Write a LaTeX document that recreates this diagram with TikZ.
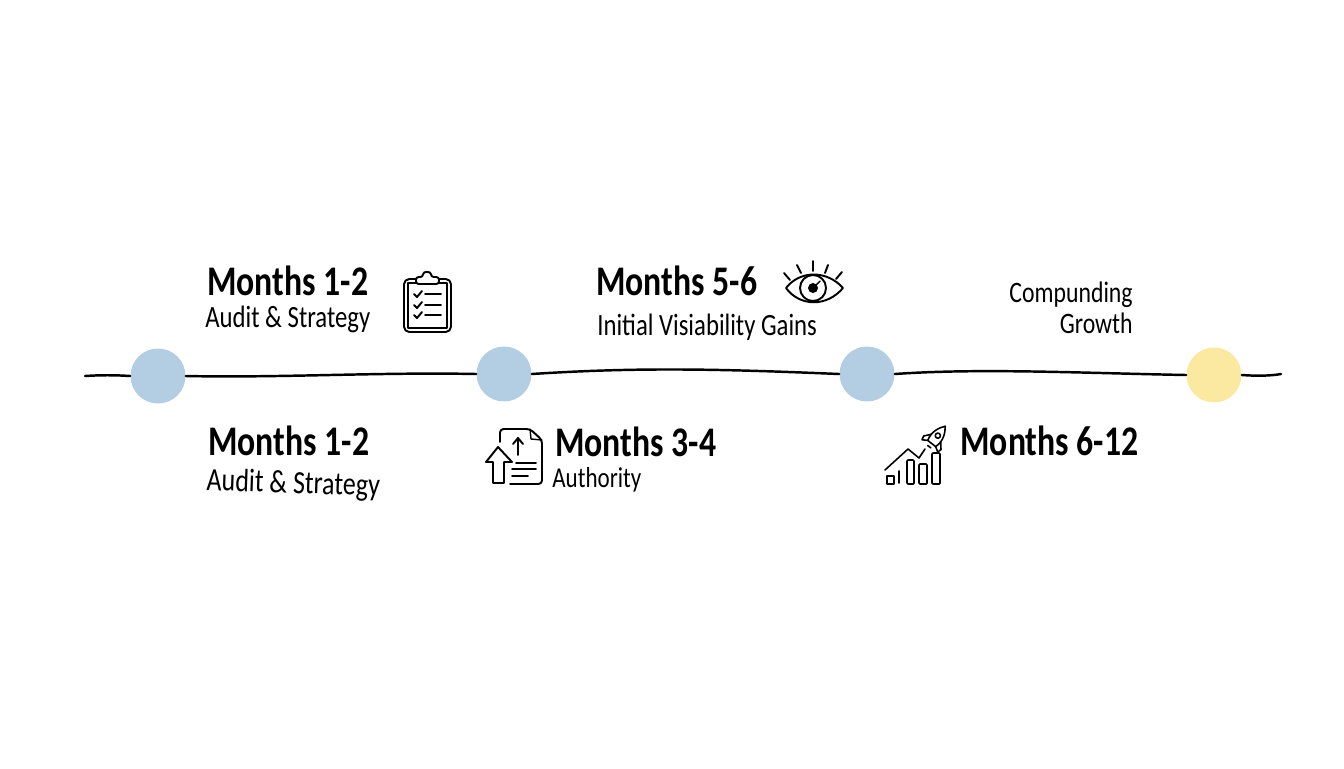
\documentclass[tikz,border=0pt]{standalone}
\usepackage{fontspec}
\usepackage{xcolor}
\usepackage{tikz}
\newfontfamily\handfont[FakeStretch=0.8]{Carlito}
\definecolor{tlblue}{HTML}{B3CDE3}
\definecolor{tlyellow}{HTML}{FBE9A2}
\tikzset{
  dot/.style={circle, minimum size=1.56cm*0.705, inner sep=0pt, draw=none},
  head/.style={anchor=base west, inner sep=0pt, font=\handfont\fontsize{24}{26}\selectfont\bfseries, text=black},
  sub/.style={anchor=base west, inner sep=0pt, font=\handfont\fontsize{#1}{18}\selectfont, text=black},
  sub/.default=17.6,
  icon/.style={line width=1.1pt, line cap=round, line join=round},
}
\begin{document}
\begin{tikzpicture}[x=0.02cm, y=-0.02cm]
  \useasboundingbox (0,0) rectangle (1344,768);

  % -- the four stops on the line -------------------------------------------
  \node[dot, fill=tlblue]   (stopa) at (158,376) {};
  \node[dot, fill=tlblue]   (stopb) at (504,374) {};
  \node[dot, fill=tlblue]   (stopc) at (867,374) {};
  \node[dot, fill=tlyellow] (stopd) at (1214,375) {};
  \coordinate (lineL) at (85,376);
  \coordinate (lineR) at (1281,374);

  % -- the line, a little unsteady -------------------------------------------
  \begin{scope}[line width=1.4pt, line cap=round]
    \draw (lineL) .. controls (100,375) and (115,375) .. (stopa.west);
    \draw (stopa.east) .. controls (280,378) and (380,372) .. (stopb.west);
    \draw (stopb.east) .. controls (640,367) and (720,369) .. (stopc.west);
    \draw (stopc.east) .. controls (980,368) and (1080,373) .. (stopd.west);
    \draw (stopd.east) .. controls (1255,376) and (1270,376) .. (lineR);
  \end{scope}

  % -- upper labels -----------------------------------------------------------
  \node[head] (mona) at (207,295) {Months 1-2};
  \node[sub]  (auda) at (205,327) {Audit \& Strategy};
  \node[head] (monc) at (596,295) {Months 5-6};
  \node[sub]  (visc) at (597,335) {Initial Visiability Gains};
  \node[sub=16.9, anchor=base east] (comd) at (1133,302) {Compunding};
  \node[sub=16.9, anchor=base east] (grod) at (1133,333) {Growth};

  % -- lower labels -----------------------------------------------------------
  \node[head] (monb) at (208,455) {Months 1-2};
  \node[sub=18.5, rotate=-2] (audb) at (206,490) {Audit \& Strategy};
  \node[head] (mone) at (555,456) {Months 3-4};
  \node[sub=16.4] (auth) at (552,487) {Authority};
  \node[head] (monf) at (960,455) {Months 6-12};

  % -- clipboard --------------------------------------------------------------
  \begin{scope}[icon]
    \draw[rounded corners=3pt] (416,279) -- (404,279) -- (404,332) -- (451,332) -- (451,279) -- (439,279);
    \draw[line width=0.8pt] (416,283) -- (408,283) -- (408,328) -- (447,328) -- (447,283) -- (439,283);
    \draw[rounded corners=1.5pt] (416,284) -- (416,277) -- (423,277) .. controls (423,271) and (431,271) .. (431,277) -- (439,277) -- (439,284) -- cycle;
    \foreach \y in {294,305,315}{
      \draw (414,\y) -- (417,\y+3) -- (422,\y-3);
      \draw (425,\y) -- (441,\y);}
  \end{scope}

  % -- eye --------------------------------------------------------------------
  \begin{scope}[icon]
    \draw (786,288) .. controls (800,270) and (827,270) .. (843,288) .. controls (827,307) and (800,307) .. (786,288) -- cycle;
    \draw (813,288) circle[radius=13];
    \fill (813,288) circle[radius=5];
    \draw[line width=0.8pt] (813,288) -- (820,281);
    \draw (813,261) -- (813,271);
    \draw (797,265) -- (801,273);
    \draw (828,265) -- (825,273);
    \draw (784,273) -- (790,280);
    \draw (842,272) -- (836,279);
  \end{scope}

  % -- document with arrows -----------------------------------------------------
  \begin{scope}[icon]
    \draw[rounded corners=2pt] (500,442) -- (500,429) -- (530,429) -- (542,440) -- (542,484) -- (510,484);
    \draw[line width=0.8pt] (530,429) -- (531,439) -- (542,440);
    \draw (518,455) -- (518,438);
    \draw (513,444) -- (518,438) -- (523,444);
    \draw (516,463) -- (536,463);
    \draw (512,469) -- (536,469);
    \draw (512,476) -- (528,476);
    \draw (498,447) -- (486,462) -- (493,462) -- (493,483) -- (504,483) -- (504,462) -- (512,462) -- cycle;
  \end{scope}

  % -- chart with rocket ----------------------------------------------------------
  \begin{scope}[icon, line width=0.9pt]
    \draw (885,470) -- (908,449) -- (919,458) -- (925,449);
    \draw (887,476) rectangle (894,484);
    \draw (899,471) -- (899,483);
    \draw[rounded corners=0.5pt] (907,460) rectangle (914,484);
    \draw[rounded corners=0.5pt] (919,464) rectangle (927,484);
    \draw[rounded corners=0.5pt] (932,453) rectangle (940,484);
    \begin{scope}[shift={(936,438)}, rotate=-38]
      \draw (-5,7) .. controls (-8,-2) and (-4,-10) .. (0,-15) .. controls (4,-10) and (8,-2) .. (5,7) -- cycle;
      \draw (0,-3) circle[radius=2.6];
      \draw (-6,0) -- (-11,6) -- (-10,10) -- (-5,7);
      \draw (6,0) -- (11,6) -- (10,10) -- (5,7);
      \draw (-2,11) -- (2,11);
    \end{scope}
  \end{scope}

\end{tikzpicture}
\end{document}
